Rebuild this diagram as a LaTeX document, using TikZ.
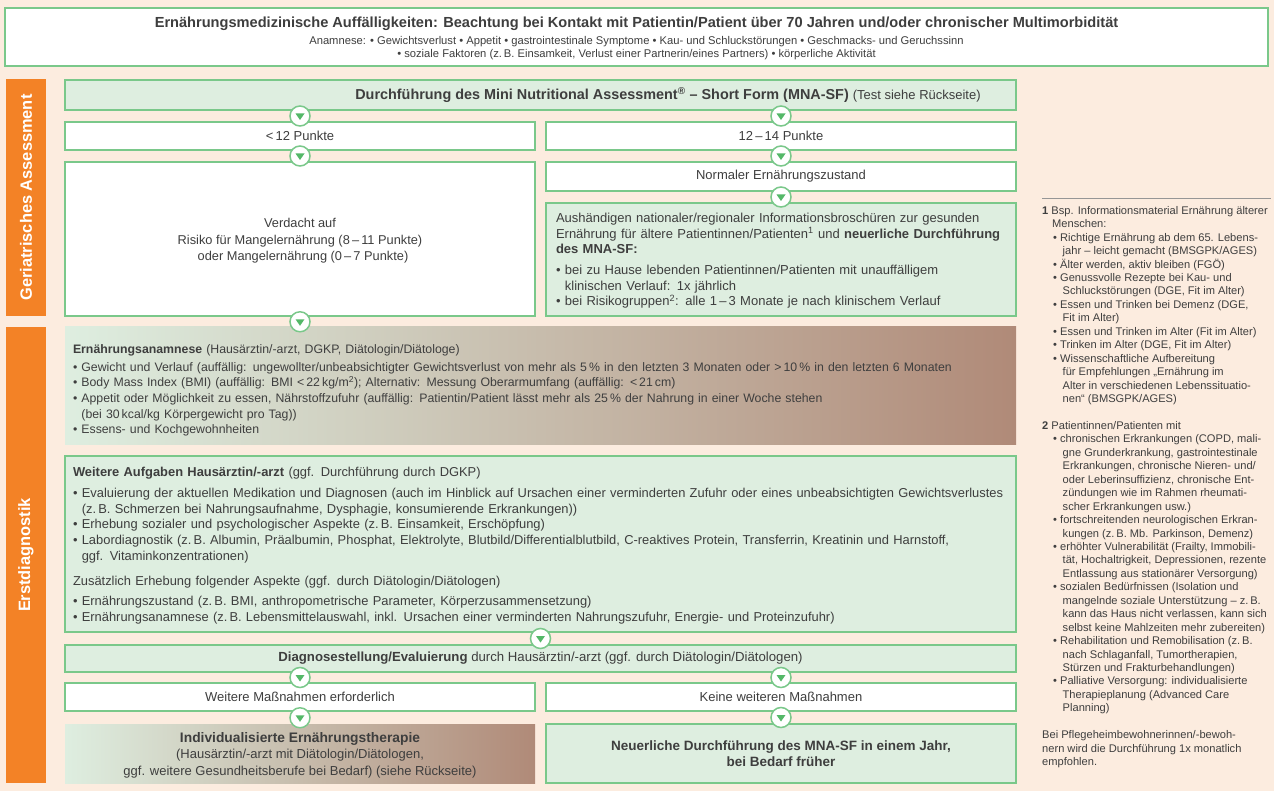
\documentclass[tikz,border=0pt]{standalone}
\usepackage{fontspec}
\setmainfont{Liberation Sans}
\setsansfont{Liberation Sans}
\usetikzlibrary{calc}

\definecolor{pagebg}{RGB}{252,236,223}
\definecolor{boxline}{RGB}{122,200,138}
\definecolor{boxfill}{RGB}{222,238,224}
\definecolor{markgreen}{RGB}{84,184,104}
\definecolor{sidebar}{RGB}{243,130,38}
\definecolor{inkgray}{RGB}{62,62,62}
\definecolor{therapymid}{RGB}{208,196,180}
\definecolor{therapybrown}{RGB}{176,138,120}
\definecolor{rulegray}{RGB}{150,150,150}

\newcommand{\bodyfont}{\fontsize{13}{15.6}\selectfont}
\newcommand{\notefont}{\fontsize{11.1}{13.45}\selectfont}
\newcommand{\bul}{\textbullet\ }
\newcommand{\bulind}{\phantom{\textbullet\ }}

\newcommand{\flowmark}[4]{
	\path (#4 |- #2.south) -- (#4 |- #3.north) node[midway, flowmark] (#1) {};
}

\tikzset{
	whitebox/.style={draw=boxline, fill=white, line width=1.5pt, inner sep=0pt, align=center, font=\bodyfont, text=inkgray},
	greenbox/.style={whitebox, fill=boxfill},
	shadebox/.style={inner sep=0pt, align=center, font=\bodyfont, text=inkgray, left color=boxfill, middle color=therapymid, right color=therapybrown},
	sidebox/.style={fill=sidebar, rotate=90, inner sep=0pt, text=white, font=\fontsize{16.4}{19}\selectfont\bfseries},
	flowmark/.style={circle, draw=boxline, fill=white, line width=1.5pt, minimum size=20pt, inner sep=0pt,
		path picture={\fill[markgreen] ($(path picture bounding box.center)+(-4.5,-2.5)$) -- ++(9,0) -- ++(-4.5,6.5) -- cycle;}},
	notetext/.style={anchor=north west, inner sep=0pt, align=left, font=\notefont, text=inkgray}
}

\begin{document}
\begin{tikzpicture}[x=1pt, y=-1pt]
\fill[pagebg] (0,0) rectangle (1274,791);
\useasboundingbox (0,0) rectangle (1274,791);

\node[whitebox, minimum width=1263pt, minimum height=58pt, font=\fontsize{11.2}{13}\selectfont] (head) at (636.5,37)
	{{\rule{0pt}{14pt}\fontsize{14.6}{18}\selectfont\bfseries Ernährungsmedizinische Auffälligkeiten: Beachtung bei Kontakt mit Patientin/Patient über 70 Jahren und/oder chronischer Multimorbidität}\\[4pt]
	Anamnese: \bul Gewichtsverlust \bul Appetit \bul gastrointestinale Symptome \bul Kau- und Schluckstörungen \bul Geschmacks- und Geruchssinn\\
	\bul soziale Faktoren (z.\,B. Einsamkeit, Verlust einer Partnerin/eines Partners) \bul körperliche Aktivität};

\node[sidebox, minimum width=237pt, minimum height=40pt] (sideGer) at (26,197.5) {Geriatrisches Assessment};
\node[sidebox, minimum width=456pt, minimum height=40pt] (sideErst) at (26,555) {Erstdiagnostik};

\node[greenbox, minimum width=951pt, minimum height=30pt] (mna) at (540.5,95) {};
\node[inner sep=0pt, text=inkgray] (mnaText) at (668,95)
	{\fontsize{14.4}{17}\selectfont\textbf{Durchführung des Mini Nutritional Assessment\textsuperscript{®} -- Short Form (MNA-SF)} \fontsize{13}{17}\selectfont(Test siehe Rückseite)};

\node[whitebox, minimum width=470pt, minimum height=28pt] (lowScore) at (300,136) {<\,12 Punkte};
\node[whitebox, minimum width=470pt, minimum height=28pt] (normScore) at (781,136) {12\,--\,14 Punkte};

\node[whitebox, minimum width=470pt, minimum height=154pt, font=\fontsize{12.8}{16.5}\selectfont] (suspect) at (300,239)
	{\rule{0pt}{13pt}Verdacht auf\\Risiko für Mangelernährung (8\,--\,11 Punkte)\\\hspace*{6pt}oder Mangelernährung (0\,--\,7 Punkte)};
\node[whitebox, minimum width=470pt, minimum height=29pt] (normal) at (781,176.5) {Normaler Ernährungszustand};
\node[greenbox, minimum width=470pt, minimum height=113pt, text width=450pt, align=left] (brochure) at (781,259.5)
	{\rule{0pt}{12pt}Aushändigen nationaler/regionaler Informationsbroschüren zur gesunden\\
	Ernährung für ältere Patientinnen/Patienten\textsuperscript{1} und \textbf{neuerliche Durchführung}\\
	\textbf{des MNA-SF:}\\[5pt]
	\bul bei zu Hause lebenden Patientinnen/Patienten mit unauffälligem\\
	\bulind klinischen Verlauf: 1x jährlich\\
	\bul bei Risikogruppen\textsuperscript{2}: alle 1\,--\,3 Monate je nach klinischem Verlauf};

\node[shadebox, minimum width=951pt, minimum height=117pt, text width=935pt, align=left, font=\fontsize{12.3}{15.7}\selectfont] (anamnesis) at (540.5,385.5)
	{\rule{0pt}{19pt}\textbf{Ernährungsanamnese} (Hausärztin/-arzt, DGKP, Diätologin/Diätologe)\\[2pt]
	\bul Gewicht und Verlauf (auffällig: ungewollter/unbeabsichtigter Gewichtsverlust von mehr als 5\,\% in den letzten 3 Monaten oder >\,10\,\% in den letzten 6 Monaten\\
	\bul Body Mass Index (BMI) (auffällig: BMI <\,22\,kg/m\textsuperscript{2}); Alternativ: Messung Oberarmumfang (auffällig: <\,21\,cm)\\
	\bul Appetit oder Möglichkeit zu essen, Nährstoffzufuhr (auffällig: Patientin/Patient lässt mehr als 25\,\% der Nahrung in einer Woche stehen\\
	\bulind (bei 30\,kcal/kg Körpergewicht pro Tag))\\
	\bul Essens- und Kochgewohnheiten};

\node[greenbox, minimum width=951pt, minimum height=176pt, text width=935pt, align=left, font=\fontsize{12.9}{15.7}\selectfont] (gpTasks) at (540.5,544)
	{\rule{0pt}{13pt}\textbf{Weitere Aufgaben Hausärztin/-arzt} (ggf. Durchführung durch DGKP)\\[5pt]
	\bul Evaluierung der aktuellen Medikation und Diagnosen (auch im Hinblick auf Ursachen einer verminderten Zufuhr oder eines unbeabsichtigten Gewichtsverlustes\\
	\bulind (z.\,B. Schmerzen bei Nahrungsaufnahme, Dysphagie, konsumierende Erkrankungen))\\
	\bul Erhebung sozialer und psychologischer Aspekte (z.\,B. Einsamkeit, Erschöpfung)\\
	\bul Labordiagnostik (z.\,B. Albumin, Präalbumin, Phosphat, Elektrolyte, Blutbild/Differentialblutbild, C-reaktives Protein, Transferrin, Kreatinin und Harnstoff,\\
	\bulind ggf. Vitaminkonzentrationen)\\[9pt]
	Zusätzlich Erhebung folgender Aspekte (ggf. durch Diätologin/Diätologen)\\[5pt]
	\bul Ernährungszustand (z.\,B. BMI, anthropometrische Parameter, Körperzusammensetzung)\\
	\bul Ernährungsanamnese (z.\,B. Lebensmittelauswahl, inkl. Ursachen einer verminderten Nahrungszufuhr, Energie- und Proteinzufuhr)};

\node[greenbox, minimum width=951pt, minimum height=27pt, font=\fontsize{13.2}{15.6}\selectfont] (diagnosis) at (540.5,658.5)
	{\textbf{Diagnosestellung/Evaluierung} durch Hausärztin/-arzt (ggf. durch Diätologin/Diätologen)};

\node[whitebox, minimum width=470pt, minimum height=28pt] (furtherYes) at (300,697) {Weitere Maßnahmen erforderlich};
\node[whitebox, minimum width=470pt, minimum height=28pt] (furtherNo) at (781,697) {Keine weiteren Maßnahmen};

\node[shadebox, minimum width=470pt, minimum height=59pt, font=\fontsize{13}{16.5}\selectfont] (therapy) at (300,753.5)
	{\rule{0pt}{13pt}\fontsize{13.8}{16.5}\selectfont\textbf{Individualisierte Ernährungstherapie}\\
	(Hausärztin/-arzt mit Diätologin/Diätologen,\\
	ggf. weitere Gesundheitsberufe bei Bedarf) (siehe Rückseite)};
\node[greenbox, minimum width=470pt, minimum height=59pt, font=\fontsize{13.5}{16.5}\selectfont\bfseries] (repeatMna) at (781,753.5)
	{Neuerliche Durchführung des MNA-SF in einem Jahr,\\bei Bedarf früher};

\flowmark{fmA}{mna}{lowScore}{lowScore}
\flowmark{fmB}{mna}{normScore}{normScore}
\flowmark{fmC}{lowScore}{suspect}{lowScore}
\flowmark{fmD}{normScore}{normal}{normScore}
\flowmark{fmE}{normal}{brochure}{normal}
\flowmark{fmF}{suspect}{anamnesis}{suspect}
\flowmark{fmG}{gpTasks}{diagnosis}{diagnosis}
\flowmark{fmH}{diagnosis}{furtherYes}{furtherYes}
\flowmark{fmI}{diagnosis}{furtherNo}{furtherNo}
\flowmark{fmJ}{furtherYes}{therapy}{furtherYes}
\flowmark{fmK}{furtherNo}{repeatMna}{furtherNo}

\coordinate (ruleL) at (1042,198);
\coordinate (ruleR) at (1271,198);
\draw[rulegray, line width=0.8pt] (ruleL) -- (ruleR);

\node[notetext] (notes) at (1042,206)
	{\textbf{1} Bsp. Informationsmaterial Ernährung älterer\\
	\hspace*{10pt}Menschen:\\
	\hspace*{11pt}\bul Richtige Ernährung ab dem 65. Lebens-\\
	\hspace*{20.5pt}jahr -- leicht gemacht (BMSGPK/AGES)\\
	\hspace*{11pt}\bul Älter werden, aktiv bleiben (FGÖ)\\
	\hspace*{11pt}\bul Genussvolle Rezepte bei Kau- und\\
	\hspace*{20.5pt}Schluckstörungen (DGE, Fit im Alter)\\
	\hspace*{11pt}\bul Essen und Trinken bei Demenz (DGE,\\
	\hspace*{20.5pt}Fit im Alter)\\
	\hspace*{11pt}\bul Essen und Trinken im Alter (Fit im Alter)\\
	\hspace*{11pt}\bul Trinken im Alter (DGE, Fit im Alter)\\
	\hspace*{11pt}\bul Wissenschaftliche Aufbereitung\\
	\hspace*{20.5pt}für Empfehlungen „Ernährung im\\
	\hspace*{20.5pt}Alter in verschiedenen Lebenssituatio-\\
	\hspace*{20.5pt}nen“ (BMSGPK/AGES)\\[13.45pt]
	\textbf{2} Patientinnen/Patienten mit\\
	\hspace*{11pt}\bul chronischen Erkrankungen (COPD, mali-\\
	\hspace*{20.5pt}gne Grunderkrankung, gastrointestinale\\
	\hspace*{20.5pt}Erkrankungen, chronische Nieren- und/\\
	\hspace*{20.5pt}oder Leberinsuffizienz, chronische Ent-\\
	\hspace*{20.5pt}zündungen wie im Rahmen rheumati-\\
	\hspace*{20.5pt}scher Erkrankungen usw.)\\
	\hspace*{11pt}\bul fortschreitenden neurologischen Erkran-\\
	\hspace*{20.5pt}kungen (z.\,B. Mb. Parkinson, Demenz)\\
	\hspace*{11pt}\bul erhöhter Vulnerabilität (Frailty, Immobili-\\
	\hspace*{20.5pt}tät, Hochaltrigkeit, Depressionen, rezente\\
	\hspace*{20.5pt}Entlassung aus stationärer Versorgung)\\
	\hspace*{11pt}\bul sozialen Bedürfnissen (Isolation und\\
	\hspace*{20.5pt}mangelnde soziale Unterstützung -- z.\,B.\\
	\hspace*{20.5pt}kann das Haus nicht verlassen, kann sich\\
	\hspace*{20.5pt}selbst keine Mahlzeiten mehr zubereiten)\\
	\hspace*{11pt}\bul Rehabilitation und Remobilisation (z.\,B.\\
	\hspace*{20.5pt}nach Schlaganfall, Tumortherapien,\\
	\hspace*{20.5pt}Stürzen und Frakturbehandlungen)\\
	\hspace*{11pt}\bul Palliative Versorgung: individualisierte\\
	\hspace*{20.5pt}Therapieplanung (Advanced Care\\
	\hspace*{20.5pt}Planning)\\[13.45pt]
	Bei Pflegeheimbewohnerinnen/-bewoh-\\
	nern wird die Durchführung 1x monatlich\\
	empfohlen.};
\end{tikzpicture}
\end{document}
